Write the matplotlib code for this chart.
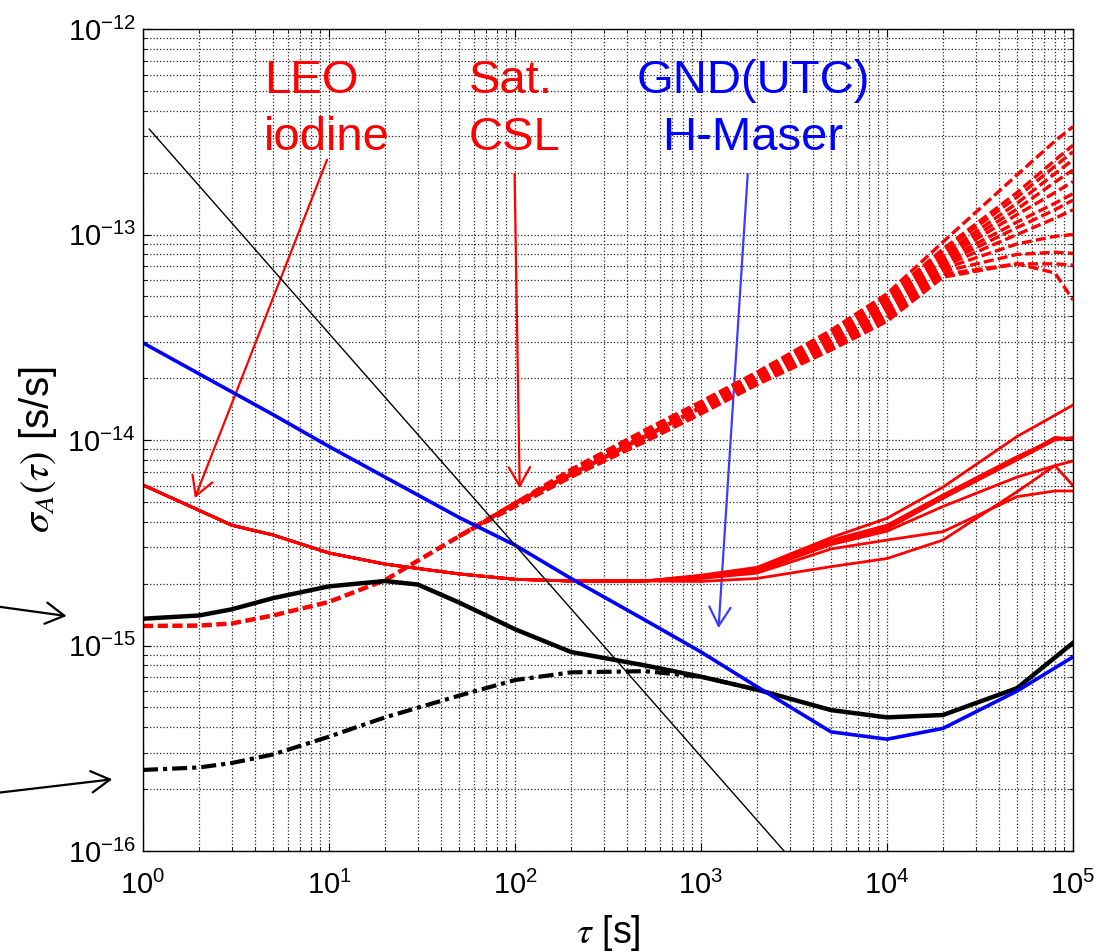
import matplotlib.pyplot as plt
from matplotlib.patches import FancyArrowPatch
import numpy as np

plt.rcParams['font.family'] = ['Liberation Sans', 'DejaVu Sans']
plt.rcParams['mathtext.fontset'] = 'custom'
plt.rcParams['mathtext.rm'] = 'Liberation Sans'
plt.rcParams['mathtext.it'] = 'Liberation Sans:italic'
plt.rcParams['axes.unicode_minus'] = False

# ---- data ----
# ground H-maser (blue)
tau_maser = [1, 2, 5, 10, 20, 50, 100, 200, 500, 1e3, 2e3, 5e3, 1e4, 2e4, 5e4, 1e5]
maser = [2.97e-14, 2.1e-14, 1.33e-14, 9.3e-15, 6.6e-15, 4.2e-15, 3.08e-15, 2.12e-15,
         1.33e-15, 9.3e-16, 6.3e-16, 3.8e-16, 3.5e-16, 3.95e-16, 6.0e-16, 8.8e-16]

# black thick solid
tau_total = [1, 2, 3, 5, 10, 20, 30, 50, 100, 200, 500, 1e3, 2e3, 5e3, 1e4, 2e4, 5e4, 1e5]
total = [1.35e-15, 1.4e-15, 1.5e-15, 1.7e-15, 1.94e-15, 2.06e-15, 1.98e-15, 1.62e-15, 1.2e-15,
         9.3e-16, 8.0e-16, 7.05e-16, 6.1e-16, 4.85e-16, 4.47e-16, 4.59e-16, 6.2e-16, 1.03e-15]

# black dash-dot
tau_dd = [1, 2, 3, 5, 10, 20, 50, 100, 200, 500, 1e3, 2e3]
dashdot = [2.48e-16, 2.55e-16, 2.68e-16, 2.95e-16, 3.6e-16, 4.47e-16, 5.7e-16, 6.79e-16,
           7.4e-16, 7.5e-16, 7.05e-16, 6.1e-16]

# thin black reference line
tau_ref = [1.08, 3000]
ref_line = [3.26e-13, 9.3e-17]

# LEO iodine (red solid): shared head, then one tail per run
tau_leo_head = [1, 2, 3, 5, 10, 20, 50, 100, 200, 500]
leo_head = [6.04e-15, 4.55e-15, 3.85e-15, 3.45e-15, 2.82e-15, 2.49e-15, 2.23e-15, 2.1e-15,
            2.06e-15, 2.06e-15]
tau_leo_tail = [1e3, 2e3, 5e3, 1e4, 2e4, 5e4, 8e4, 1e5]
leo_tails = [  # units 1e-15
    [2.20, 2.40, 3.35, 4.16, 5.9, 10.4, 13.2, 14.8],
    [2.18, 2.38, 3.25, 3.85, 5.4, 8.3, 10.1, 10.2],
    [2.17, 2.35, 3.20, 3.75, 5.25, 8.1, 10.3, 10.1],
    [2.16, 2.33, 3.15, 3.70, 5.2, 8.0, 10.0, 10.3],
    [2.15, 2.30, 3.10, 3.60, 4.75, 6.6, 7.5, 6.0],
    [2.12, 2.25, 2.95, 3.26, 3.58, 5.3, 5.65, 5.65],
    [2.05, 2.12, 2.42, 2.65, 3.26, 5.6, 7.5, 7.9],
]

# Sat. CSL (red dashed): shared head, then a fan of runs
tau_csl_head = [1, 2, 3, 5, 10, 20, 50, 100, 200, 500, 1e3]
csl_head = [1.245e-15, 1.25e-15, 1.28e-15, 1.4e-15, 1.63e-15, 2.08e-15, 3.4e-15, 4.92e-15,
            6.8e-15, 1.04e-14, 1.44e-14]
tau_csl_tail = [50, 200, 500, 1e3, 2e3, 5e3, 1e4, 2e4, 5e4, 8e4, 1e5]
csl_tails = [  # units 1e-14, from 200 s on
    [0.72, 1.12, 1.54, 2.14, 3.42, 5.15, 9.2, 19.5, 28.5, 33.5],
    [0.71, 1.10, 1.52, 2.11, 3.35, 5.00, 8.5, 16.0, 23.0, 27.2],
    [0.71, 1.09, 1.50, 2.09, 3.29, 4.88, 8.3, 15.2, 21.5, 25.3],
    [0.70, 1.08, 1.49, 2.07, 3.23, 4.77, 8.0, 14.2, 19.8, 23.1],
    [0.70, 1.07, 1.47, 2.05, 3.17, 4.65, 7.8, 13.3, 18.0, 20.6],
    [0.69, 1.06, 1.46, 2.03, 3.11, 4.53, 7.6, 12.5, 16.0, 18.1],
    [0.69, 1.05, 1.44, 2.00, 3.05, 4.42, 7.4, 11.5, 14.2, 15.8],
    [0.68, 1.04, 1.43, 1.98, 3.00, 4.31, 7.2, 10.8, 13.2, 14.7],
    [0.68, 1.02, 1.41, 1.96, 2.95, 4.20, 7.0, 10.0, 12.0, 13.2],
    [0.67, 1.01, 1.39, 1.93, 2.89, 4.09, 6.8, 9.0, 9.8, 10.0],
    [0.67, 1.00, 1.37, 1.91, 2.84, 3.98, 6.6, 8.0, 8.2, 8.1],
    [0.66, 0.99, 1.35, 1.88, 2.79, 3.88, 6.4, 7.2, 7.2, 7.1],
    [0.66, 0.98, 1.34, 1.86, 2.74, 3.78, 6.2, 7.2, 6.5, 4.8],
]

RED = '#ff0000'
BLUE = '#0000ff'

fig = plt.figure(figsize=(10.95, 9.52), dpi=100)
ax = fig.add_axes([0.1306, 0.1061, 0.8493, 0.8634])
ax.set_xscale('log')
ax.set_yscale('log')
ax.set_xlim(1, 1e5)
ax.set_ylim(1e-16, 1e-12)

# dashed fan (CSL)
ax.plot(tau_csl_head, csl_head, color=RED, lw=3.2, dashes=(2.3, 1.0))
for tail in csl_tails:
    vals = [csl_head[tau_csl_head.index(50)]] + [v * 1e-14 for v in tail]
    ax.plot(tau_csl_tail, vals, color=RED, lw=2.4, dashes=(3.0, 1.25))

# LEO solid runs
for tail in leo_tails:
    ax.plot(tau_leo_head + tau_leo_tail, leo_head + [v * 1e-15 for v in tail],
            color=RED, lw=2)

ax.plot(tau_dd, dashdot, color='black', lw=3, dashes=(3.6, 1.2, 1.0, 1.2))
ax.plot(tau_total, total, color='black', lw=3.2)
ax.plot(tau_maser, maser, color=BLUE, lw=2.6)
ax.plot(tau_ref, ref_line, color='black', lw=1.0)

ax.grid(True, which='both', linestyle=':', color='0.15', linewidth=0.9)
ax.set_axisbelow(True)
ax.tick_params(which='both', direction='in', top=True, right=True, labelsize=21)
ax.tick_params(which='major', length=6, width=0.8)
ax.tick_params(which='minor', length=3, width=0.6)
ax.tick_params(axis='x', pad=14)
ax.tick_params(axis='y', pad=5)
ax.xaxis.get_offset_text().set_visible(False)
ax.yaxis.get_offset_text().set_visible(False)
for s in ax.spines.values():
    s.set_linewidth(1.0)

ax.set_xlabel(r'$\tau$ [s]', fontsize=27, math_fontfamily='stix')
ax.xaxis.label.set_va('center')
ax.xaxis.set_label_coords(0.5, -0.0998)
ax.set_ylabel(r'$\sigma_A(\tau)$ [s/s]', fontsize=29, math_fontfamily='stix')
ax.yaxis.label.set_va('center')
ax.yaxis.set_label_coords(-0.113, 0.488)

# labels and pointers
tk = dict(fontsize=34, va='baseline', transform=ax.transAxes)
ax.text(0.1301, 0.9221, 'LEO', color=RED, ha='left', **tk)
ax.text(0.1301, 0.8528, 'iodine', color=RED, ha='left', **tk)
ax.text(0.3505, 0.9221, 'Sat.', color=RED, ha='left', **tk)
ax.text(0.3505, 0.8528, 'CSL', color=RED, ha='left', **tk)
ax.text(0.6559, 0.9221, 'GND(UTC)', color=BLUE, ha='center', **tk)
ax.text(0.6559, 0.8528, 'H-Maser', color=BLUE, ha='center', **tk)


def arrow(start, tip, color, fig_coords=False):
    p = FancyArrowPatch(start, tip,
                        arrowstyle='->,head_length=0.42,head_width=0.24',
                        mutation_scale=32, lw=1.6, color=color,
                        shrinkA=0, shrinkB=0)
    if fig_coords:
        p.set_transform(fig.transFigure)
        fig.add_artist(p)
    else:
        p.set_transform(ax.transData)
        ax.add_patch(p)


arrow((9.76, 2.31e-13), (1.9, 5.22e-15), RED)
arrow((99.5, 1.97e-13), (106, 5.83e-15), RED)
arrow((1783, 1.97e-13), (1243, 1.216e-15), '#3c3cff')
arrow((-0.02, 0.3657), (0.0608, 0.3529), 'black', fig_coords=True)
arrow((-0.02, 0.1648), (0.1025, 0.1814), 'black', fig_coords=True)

fig.savefig('out.png', dpi=100)
